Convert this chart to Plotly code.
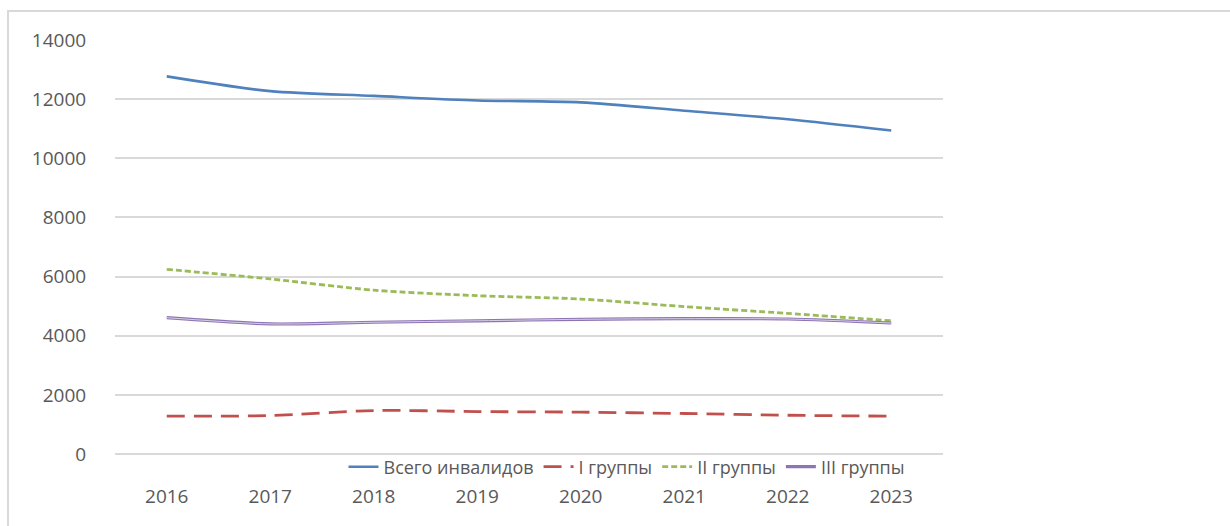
import plotly.graph_objects as go

years = ["2016", "2017", "2018", "2019", "2020", "2021", "2022", "2023"]
total = [12770, 12270, 12110, 11955, 11890, 11610, 11320, 10940]
group1 = [1280, 1300, 1470, 1435, 1415, 1370, 1310, 1280]
group2 = [6245, 5920, 5540, 5355, 5240, 4985, 4755, 4505]
group3 = [4610, 4400, 4455, 4505, 4555, 4575, 4565, 4430]

names = ["Всего инвалидов", "I группы", "II группы", "III группы"]

W, H = 1230, 526
L, R, T, B = 115, 943, 40, 454  # plot area in pixels


def px_x(p):
    return (p - L) / (R - L)


def px_y(p):
    return (B - p) / (B - T)


FONT = "Open Sans, Noto Sans, DejaVu Sans, sans-serif"
TXT = "#595959"
GRID = "#d9d9d9"

fig = go.Figure()
fig.add_trace(go.Scatter(x=years, y=total, name=names[0], mode="lines",
                         line=dict(color="#4F81BD", width=2.6, shape="spline", smoothing=0.8)))
fig.add_trace(go.Scatter(x=years, y=group1, name=names[1], mode="lines",
                         line=dict(color="#C0504D", width=2.8, dash="18px,9px", shape="spline", smoothing=0.8)))
fig.add_trace(go.Scatter(x=years, y=group2, name=names[2], mode="lines",
                         line=dict(color="#9BBB59", width=2.8, dash="6px,3px", shape="spline", smoothing=0.8)))
fig.add_trace(go.Scatter(x=years, y=group3, name=names[3], mode="lines",
                         line=dict(color="#8D75B3", width=3.2, shape="spline", smoothing=0.8)))
fig.add_trace(go.Scatter(x=years, y=group3, name=names[3], mode="lines", showlegend=False,
                         line=dict(color="#D6CDE6", width=1.0, shape="spline", smoothing=0.8)))

fig.update_layout(
    width=W, height=H,
    margin=dict(l=L, r=W - R, t=T, b=H - B, pad=0),
    paper_bgcolor="white", plot_bgcolor="white",
    font=dict(family=FONT, size=18, color=TXT),
    showlegend=True,
    legend=dict(orientation="h", x=px_x(627), xanchor="center", y=px_y(467), yanchor="middle",
                bgcolor="rgba(0,0,0,0)", font=dict(family=FONT, size=18, color=TXT),
                tracegroupgap=0),
    xaxis=dict(type="category", range=[-0.5, 7.5], showgrid=False, zeroline=False, showline=False,
               ticks="outside", ticklen=25, tickcolor="rgba(0,0,0,0)",
               tickfont=dict(family=FONT, size=19, color=TXT)),
    yaxis=dict(range=[0, 14000], dtick=2000, tickformat="d", showgrid=True, gridcolor=GRID, gridwidth=1.5,
               zeroline=True, zerolinecolor=GRID, zerolinewidth=1.5, showline=False,
               ticks="outside", ticklen=24, tickcolor="rgba(0,0,0,0)",
               tickfont=dict(family=FONT, size=19, color=TXT)),
    shapes=[dict(type="rect", xref="paper", yref="paper",
                 x0=px_x(8), x1=px_x(1300), y0=px_y(600), y1=px_y(11),
                 line=dict(color=GRID, width=2), fillcolor="rgba(0,0,0,0)", layer="below")],
)

fig.write_html("out.html", config={"displayModeBar": False},
               post_script="document.body.style.margin='0';")
